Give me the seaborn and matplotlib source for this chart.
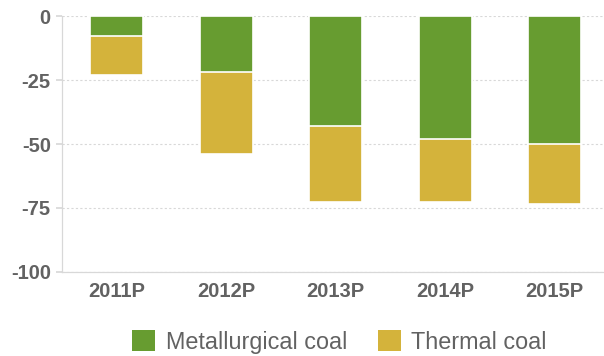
import matplotlib
matplotlib.use("Agg")
import matplotlib.pyplot as plt
import seaborn as sns
import pandas as pd
from matplotlib.patches import Patch

years = ["2011P", "2012P", "2013P", "2014P", "2015P"]
metallurgical = [-8, -22, -43, -48, -50]
thermal = [-15, -32, -29.5, -24.5, -23.5]
y_ticks = [0, -25, -50, -75, -100]

GREEN = "#679C30"
YELLOW = "#D4B33B"
TEXT = "#626262"

sns.set_theme(style="white")
plt.rcParams["font.family"] = ["Liberation Sans", "DejaVu Sans"]

df = pd.DataFrame({
    "year": years,
    "met": metallurgical,
    "total": [m + t for m, t in zip(metallurgical, thermal)],
})

fig = plt.figure(figsize=(6.04, 3.56), dpi=100)
ax = fig.add_axes([0.1026, 0.236, 0.8974, 0.719])

sns.barplot(data=df, x="year", y="total", color=YELLOW, saturation=1,
            width=0.485, edgecolor="white", linewidth=1.2, ax=ax)
sns.barplot(data=df, x="year", y="met", color=GREEN, saturation=1,
            width=0.485, edgecolor="white", linewidth=1.2, ax=ax)

ax.set_xlim(-0.5, 4.45)
ax.set_ylim(-100, 0)
ax.set_yticks(y_ticks)
ax.set_yticklabels([str(v) for v in y_ticks])
ax.set_xlabel("")
ax.set_ylabel("")

ax.yaxis.grid(True, linestyle=(0, (2, 2)), color="#d8d8d8", linewidth=0.8)
ax.set_axisbelow(True)
for s in ["top", "right"]:
    ax.spines[s].set_visible(False)
ax.spines["left"].set_color("#d8d8d8")
ax.spines["bottom"].set_color("#d8d8d8")
ax.spines["left"].set_linewidth(0.9)
ax.spines["bottom"].set_linewidth(0.9)

ax.tick_params(axis="y", which="major", left=True, length=4, color="#d8d8d8",
               labelsize=14.5, labelcolor=TEXT, pad=4)
ax.tick_params(axis="x", which="major", bottom=False, length=0,
               labelsize=14.5, labelcolor=TEXT, pad=7)
for lab in ax.get_xticklabels() + ax.get_yticklabels():
    lab.set_fontweight("bold")

handles = [Patch(facecolor=GREEN, edgecolor="none", label="Metallurgical coal"),
           Patch(facecolor=YELLOW, edgecolor="none", label="Thermal coal")]
leg = fig.legend(handles=handles, loc="center", bbox_to_anchor=(0.562, 0.039),
                 ncol=2, frameon=False, fontsize=16.8, handlelength=1.0,
                 handleheight=1.0, handletextpad=0.45, columnspacing=1.3)
for t in leg.get_texts():
    t.set_color(TEXT)

fig.savefig("out.png", dpi=100)
